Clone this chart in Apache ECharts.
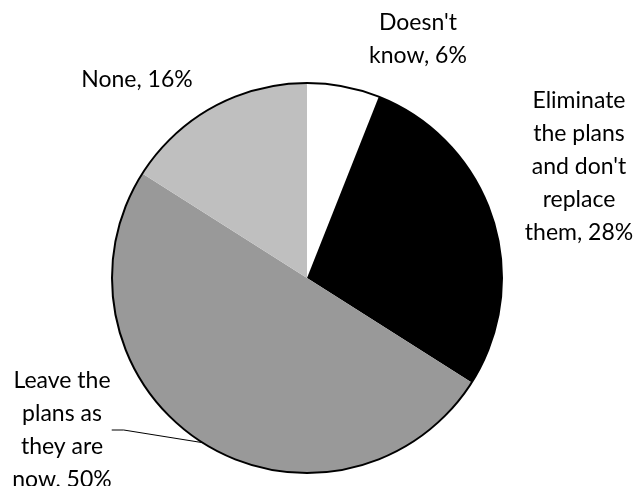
<!DOCTYPE html>
<html>
<head>
<meta charset="utf-8">
<script src="https://cdn.jsdelivr.net/npm/echarts@6/dist/echarts.min.js"></script>
<style>
  html, body { margin: 0; padding: 0; background: #ffffff; }
  #chart { width: 638px; height: 486px; }
</style>
</head>
<body>
<div id="chart"></div>
<script>
// Survey answers, clockwise from twelve o'clock
const categories = [
  "Doesn't\nknow",
  "Eliminate\nthe plans\nand don't\nreplace\nthem",
  "Leave the\nplans as\nthey are\nnow",
  "None"
];
const values = [6, 28, 50, 16];
const sliceColors = ['#ffffff', '#000000', '#999999', '#bfbfbf'];

// Label anchor points (text centre) for each slice
const labelSpots = [
  { x: 418, y: 39 },
  { x: 579, y: 167 },
  { x: 62, y: 430 },
  { x: 137, y: 80 }
];

const FONT = 'Lato, "Open Sans", sans-serif';

const chart = echarts.init(document.getElementById('chart'), null, { renderer: 'canvas' });

const pieData = categories.map((name, i) => ({
  name: name,
  value: values[i],
  itemStyle: { color: sliceColors[i] },
  labelLine: { show: i === 2 }
}));

chart.setOption({
  backgroundColor: '#ffffff',
  animation: false,
  series: [
    {
      type: 'pie',
      center: [307, 278],
      radius: 195,
      startAngle: 90,
      clockwise: true,
      data: pieData,
      itemStyle: { borderWidth: 0 },
      label: {
        show: true,
        position: 'outside',
        formatter: p => p.name + ', ' + p.value + '%',
        fontFamily: FONT,
        fontSize: 23,
        lineHeight: 33,
        color: '#000000',
        align: 'center',
        overflow: 'none'
      },
      labelLine: {
        lineStyle: { color: '#000000', width: 1 },
        length: 20,
        length2: 12
      },
      labelLayout: function (params) {
        const s = labelSpots[params.dataIndex];
        return {
          x: s.x,
          y: s.y,
          align: 'center',
          verticalAlign: 'middle'
        };
      }
    },
    {
      // outline of the whole pie
      type: 'pie',
      silent: true,
      center: [307, 278],
      radius: 195,
      data: [{ value: 1, name: 'outline' }],
      itemStyle: { color: 'rgba(0,0,0,0)', borderColor: '#000000', borderWidth: 2 },
      label: { show: false },
      labelLine: { show: false },
      emphasis: { disabled: true }
    }
  ]
});
</script>
</body>
</html>
